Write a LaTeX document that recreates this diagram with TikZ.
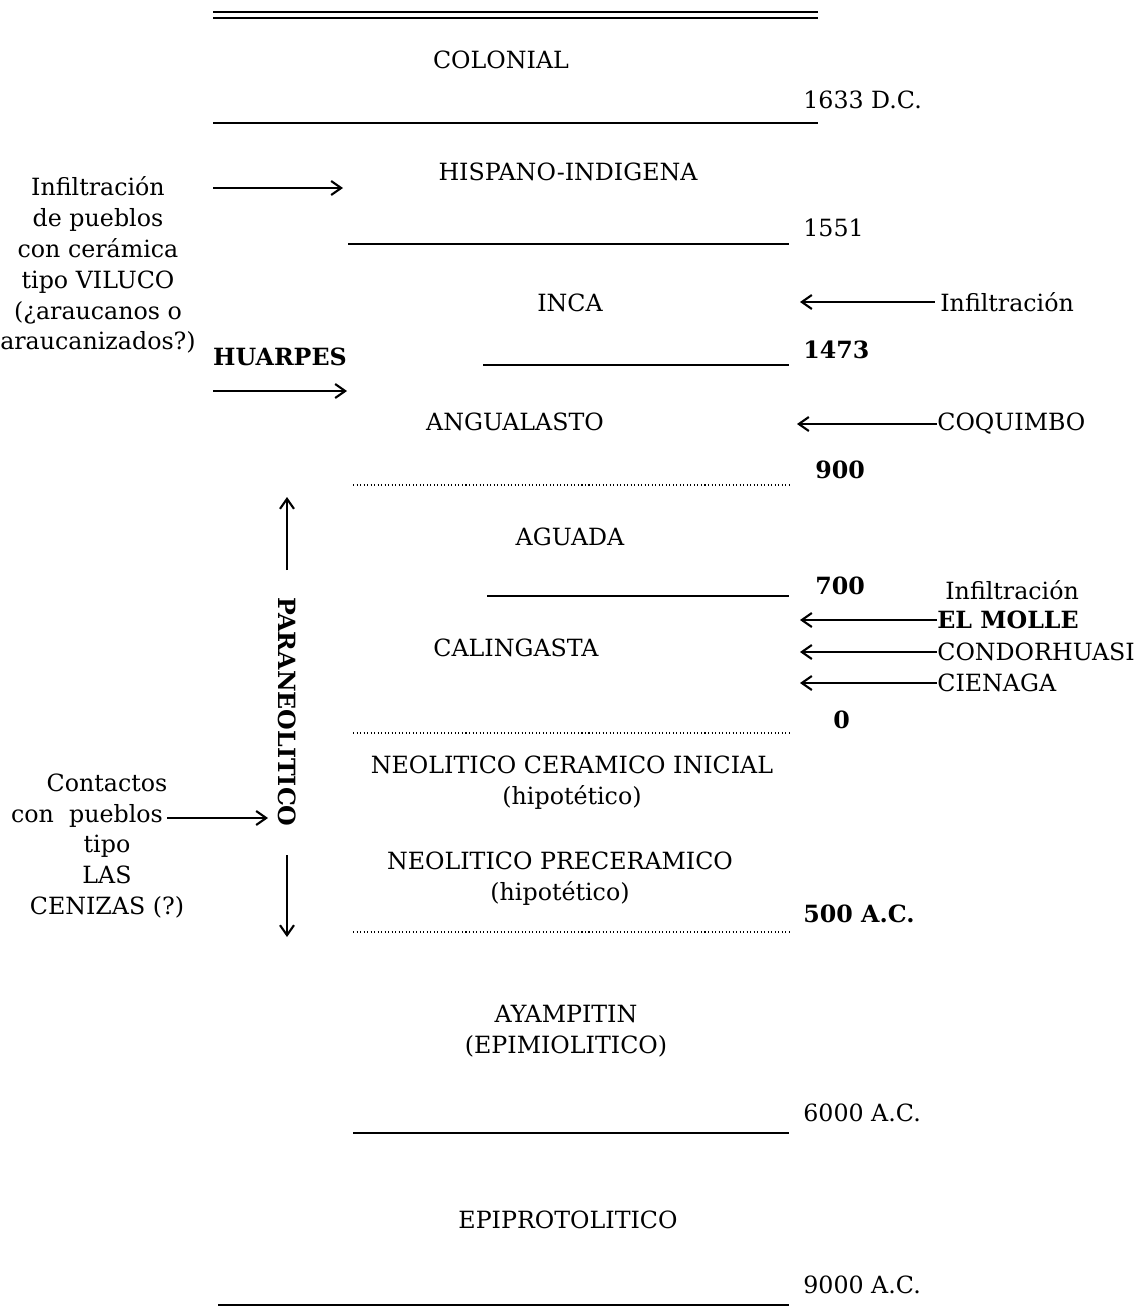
\documentclass[tikz,border=0pt]{standalone}
\usepackage{fontspec}
\setmainfont{DejaVu Serif}
\usetikzlibrary{positioning, arrows.meta}

\newcommand{\chronfont}{\fontsize{13.5}{17.6}\selectfont}

\begin{document}
\begin{tikzpicture}[x=0.2mm, y=-0.2mm]

\pgfmathsetmacro{\XL}{353}
\pgfmathsetmacro{\XR}{789}
\pgfmathsetmacro{\XD}{803}

\tikzset{
  era/.style={align=center, inner sep=0pt, font=\chronfont},
  date/.style={anchor=west, inner sep=0pt, font=\chronfont},
  side/.style={align=center, inner sep=0pt, font=\chronfont},
  heavy/.style={font=\chronfont\bfseries},
  sep/.style={line width=0.8pt},
  dotsep/.style={line width=0.7pt, dash pattern=on 0.6pt off 1.4pt},
  flow/.style={line width=1.6pt, -{Straight Barb[length=2mm, width=2.8mm, line width=1.2pt]}},
}
\useasboundingbox (0,0) rectangle (1146,1312);

% separators
\draw [line width=1.6pt] (213,12) -- (818,12);
\draw [sep] (213,18) -- (818,18);
\draw [sep] (213,123) -- (818,123);
\draw [sep] (348,244) -- (\XR,244);
\draw [sep] (483,365) -- (\XR,365);
\draw [dotsep] (\XL,485) -- (\XR,485);
\draw [sep] (487,596) -- (\XR,596);
\draw [dotsep] (\XL,733) -- (\XR,733);
\draw [dotsep] (\XL,932) -- (\XR,932);
\draw [sep] (\XL,1133) -- (\XR,1133);
\draw [sep] (218,1305) -- (\XR,1305);

% periods
\node [era] (col) at (501,60) {COLONIAL};
\node [era] (his) at (568,172) {HISPANO-INDIGENA};
\node [era] (inc) at (570,303) {INCA};
\node [era] (ang) at (515,422) {ANGUALASTO};
\node [era] (agu) at (570,537) {AGUADA};
\node [era] (cal) at (516,648) {CALINGASTA};
\node [era] (nci) at (572,783) {NEOLITICO CERAMICO INICIAL\\(hipotético)};
\node [era] (npc) at (560,879) {NEOLITICO PRECERAMICO\\(hipotético)};
\node [era] (aya) at (566,1031) {AYAMPITIN\\(EPIMIOLITICO)};
\node [era] (epi) at (568,1220) {EPIPROTOLITICO};

% dates
\node [date] (d1) at (\XD,100) {1633 D.C.};
\node [date] (d2) at (\XD,228) {1551};
\node [date, heavy] (d3) at (\XD,350) {1473};
\node [date, heavy] (d4) at (815,470) {900};
\node [date, heavy] (d5) at (815,586) {700};
\node [date, heavy] (d6) at (833,720) {0};
\node [date, heavy] (d7) at (\XD,914) {500 A.C.};
\node [date] (d8) at (\XD,1113) {6000 A.C.};
\node [date] (d9) at (\XD,1285) {9000 A.C.};

% left side
\node [side] (vil) at (98,265) {Infiltración\\de pueblos\\con cerámica\\tipo VILUCO\\(¿araucanos o\\araucanizados?)};
\node [side, heavy] (hua) at (280,357) {HUARPES};
\coordinate (v1) at (213,188);
\coordinate (v2) at (343,188);
\coordinate (h1) at (213,391);
\coordinate (h2) at (347,391);
\draw [flow] (v1) -- (v2);
\draw [flow] (h1) -- (h2);

\node [side, heavy, rotate=-90] (par) at (287,712) {PARANEOLITICO};
\coordinate (pu0) at (287,570);
\coordinate (pu) at (287,497);
\coordinate (pd0) at (287,855);
\coordinate (pd) at (287,937);
\draw [flow] (pu0) -- (pu);
\draw [flow] (pd0) -- (pd);

\node [side] (cen) at (107,846) {Contactos\\\mbox{con\ \ pueblos\hspace{8mm}}\\tipo\\LAS\\CENIZAS (?)};
\coordinate (c1) at (167,818);
\coordinate (c2) at (268,818);
\draw [flow] (c1) -- (c2);

% right side
\node [date] (inf) at (940,302) {Infiltración};
\node [date] (coq) at (937,424) {COQUIMBO};
\node [date] (inf2) at (945,590) {Infiltración};
\node [date, heavy] (mol) at (937,620) {EL MOLLE};
\node [date] (con) at (937,652) {CONDORHUASI};
\node [date] (cie) at (937,683) {CIENAGA};
\coordinate (ri) at (800,302);
\coordinate (rc) at (797,424);
\coordinate (rm) at (800,620);
\coordinate (rn) at (800,652);
\coordinate (re) at (800,683);
\draw [flow] ([xshift=-3pt]inf.west) -- (ri);
\draw [flow] (coq.west) -- (rc);
\draw [flow] (mol.west) -- (rm);
\draw [flow] (con.west) -- (rn);
\draw [flow] (cie.west) -- (re);

\end{tikzpicture}
\end{document}
